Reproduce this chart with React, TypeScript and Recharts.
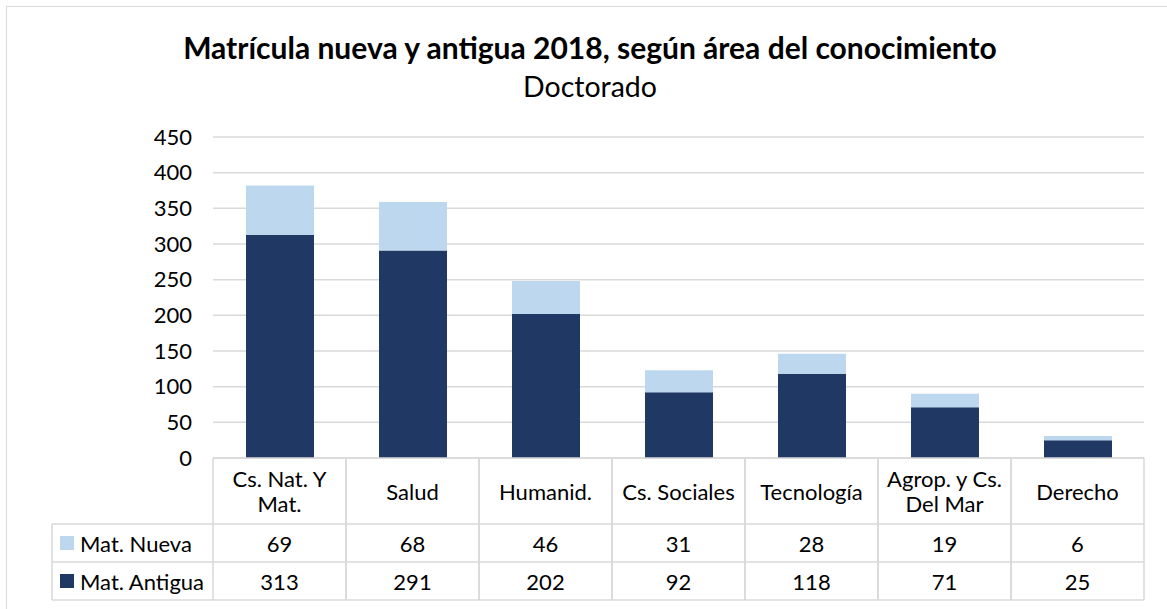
import React from 'react';
import { BarChart, Bar, XAxis, YAxis, CartesianGrid } from 'recharts';

const categories = ['Cs. Nat. Y Mat.', 'Salud', 'Humanid.', 'Cs. Sociales', 'Tecnología', 'Agrop. y Cs. Del Mar', 'Derecho'];
const categoryLines = [['Cs. Nat. Y', 'Mat.'], ['Salud'], ['Humanid.'], ['Cs. Sociales'], ['Tecnología'], ['Agrop. y Cs.', 'Del Mar'], ['Derecho']];
const matNueva = [69, 68, 46, 31, 28, 19, 6];
const matAntigua = [313, 291, 202, 92, 118, 71, 25];
const yTicks = [0, 50, 100, 150, 200, 250, 300, 350, 400, 450];
const seriesNames = ['Mat. Nueva', 'Mat. Antigua'];
const seriesValues = [matNueva, matAntigua];
const seriesColors = ['#BDD7EE', '#203864'];

const title = 'Matrícula nueva y antigua 2018, según área del conocimiento';
const subtitle = 'Doctorado';

const data = categories.map((c, i) => ({ name: c, antigua: matAntigua[i], nueva: matNueva[i] }));

const W = 1167;
const H = 609;
const PLOT_LEFT = 213;
const PLOT_RIGHT = 1144;
const PLOT_TOP = 137;
const PLOT_BOTTOM = 458;
const BAND = (PLOT_RIGHT - PLOT_LEFT) / categories.length;
const FONT = 'Lato, "Open Sans", sans-serif';
const LINE = '#d9d9d9';
const TEXT = '#000';
const FS = 22;

function TableTick(props: any) {
  const { x, y, payload } = props;
  const idx = categories.indexOf(payload.value);
  const half = BAND / 2;
  const top = y;
  const r1 = top + 66;
  const r2 = r1 + 38;
  const r3 = r2 + 38;
  const lines = categoryLines[idx] || [payload.value];
  const headerMid = (top + r1) / 2;
  const lh = 25;
  const legendLeft = x - half - (PLOT_LEFT - 52);
  return (
    <g>
      <line x1={x - half} x2={x - half} y1={top} y2={r3} stroke={LINE} strokeWidth={1.5} />
      <line x1={x + half} x2={x + half} y1={top} y2={r3} stroke={LINE} strokeWidth={1.5} />
      <line x1={x - half} x2={x + half} y1={top} y2={top} stroke={LINE} strokeWidth={1.5} />
      <line x1={x - half} x2={x + half} y1={r1} y2={r1} stroke={LINE} strokeWidth={1.5} />
      <line x1={x - half} x2={x + half} y1={r2} y2={r2} stroke={LINE} strokeWidth={1.5} />
      <line x1={x - half} x2={x + half} y1={r3} y2={r3} stroke={LINE} strokeWidth={1.5} />
      {lines.map((l, i) => (
        <text key={i} x={x} y={headerMid + (i - (lines.length - 1) / 2) * lh} textAnchor="middle" dominantBaseline="central" fontFamily={FONT} fontSize={FS} fill={TEXT}>
          {l}
        </text>
      ))}
      {seriesValues.map((vals, s) => (
        <text key={s} x={x} y={(s === 0 ? (r1 + r2) / 2 : (r2 + r3) / 2)} textAnchor="middle" dominantBaseline="central" fontFamily={FONT} fontSize={FS} fill={TEXT}>
          {vals[idx]}
        </text>
      ))}
      {idx === 0 && (
        <g>
          <line x1={legendLeft} x2={legendLeft} y1={r1} y2={r3} stroke={LINE} strokeWidth={1.5} />
          <line x1={legendLeft} x2={x - half} y1={r1} y2={r1} stroke={LINE} strokeWidth={1.5} />
          <line x1={legendLeft} x2={x - half} y1={r2} y2={r2} stroke={LINE} strokeWidth={1.5} />
          <line x1={legendLeft} x2={x - half} y1={r3} y2={r3} stroke={LINE} strokeWidth={1.5} />
          {seriesNames.map((n, s) => {
            const cy = s === 0 ? (r1 + r2) / 2 : (r2 + r3) / 2;
            return (
              <g key={n}>
                <rect x={legendLeft + 8} y={cy - 7} width={14} height={14} fill={seriesColors[s]} />
                <text x={legendLeft + 28} y={cy} dominantBaseline="central" fontFamily={FONT} fontSize={FS} fill={TEXT}>
                  {n}
                </text>
              </g>
            );
          })}
        </g>
      )}
    </g>
  );
}

export default function App() {
  return (
    <div style={{ position: 'absolute', left: 0, top: 0, width: W, height: H, background: '#fff', overflow: 'hidden' }}>
      <div style={{ position: 'absolute', left: 6, top: 6, width: 1200, height: 620, border: `1.5px solid ${LINE}`, boxSizing: 'border-box' }} />
      <div style={{ position: 'absolute', left: 0, width: 1180, top: 29, textAlign: 'center', fontFamily: FONT, fontWeight: 700, fontSize: 30, lineHeight: '36px', color: '#000' }}>
        {title}
      </div>
      <div style={{ position: 'absolute', left: 0, width: 1180, top: 68, textAlign: 'center', fontFamily: FONT, fontSize: 28.5, lineHeight: '36px', color: '#000' }}>
        {subtitle}
      </div>
      <div style={{ position: 'absolute', left: 0, top: 0 }}>
        <BarChart
          width={W}
          height={H}
          data={data}
          margin={{ top: PLOT_TOP, right: W - PLOT_RIGHT, bottom: 0, left: PLOT_LEFT - 60 }}
          barSize={68}
        >
          <CartesianGrid vertical={false} stroke={LINE} strokeWidth={1.5} />
          <XAxis
            dataKey="name"
            axisLine={false}
            tickLine={false}
            tickSize={0}
            tickMargin={0}
            interval={0}
            height={H - PLOT_BOTTOM}
            tick={<TableTick />}
          />
          <YAxis
            width={60}
            domain={[0, 450]}
            ticks={yTicks}
            interval={0}
            axisLine={false}
            tickLine={false}
            tickMargin={15}
            tick={{ fontFamily: FONT, fontSize: FS, fill: TEXT }}
          />
          <Bar dataKey="antigua" stackId="a" fill={seriesColors[1]} isAnimationActive={false} />
          <Bar dataKey="nueva" stackId="a" fill={seriesColors[0]} isAnimationActive={false} />
        </BarChart>
      </div>
    </div>
  );
}
